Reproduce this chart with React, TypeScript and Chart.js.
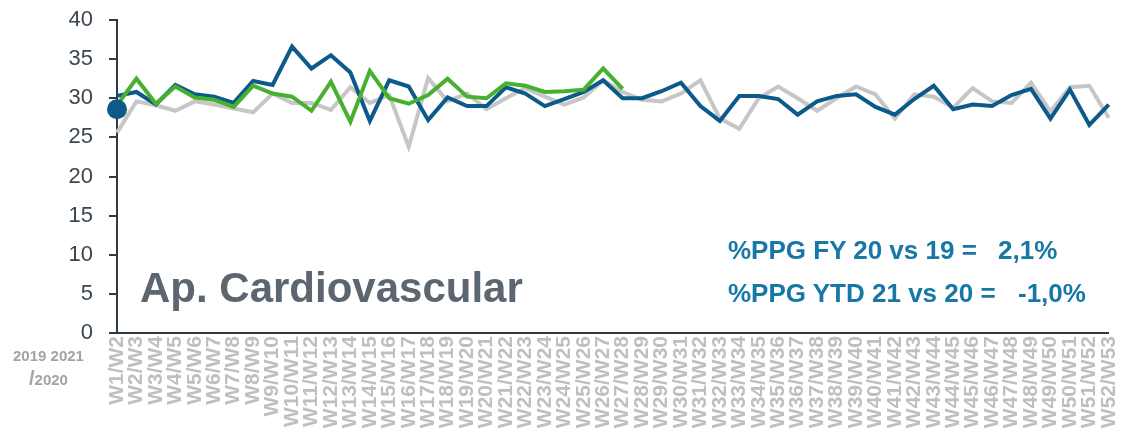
import React, { useEffect, useRef } from "react";
import { Chart, registerables } from "chart.js";

Chart.register(...registerables);

const weekLabels: string[] = [
  "W1/W2", "W2/W3", "W3/W4", "W4/W5", "W5/W6", "W6/W7", "W7/W8", "W8/W9", "W9/W10", "W10/W11",
  "W11/W12", "W12/W13", "W13/W14", "W14/W15", "W15/W16", "W16/W17", "W17/W18", "W18/W19", "W19/W20", "W20/W21",
  "W21/W22", "W22/W23", "W23/W24", "W24/W25", "W25/W26", "W26/W27", "W27/W28", "W28/W29", "W29/W30", "W30/W31",
  "W31/W32", "W32/W33", "W33/W34", "W34/W35", "W35/W36", "W36/W37", "W37/W38", "W38/W39", "W39/W40", "W40/W41",
  "W41/W42", "W42/W43", "W43/W44", "W44/W45", "W45/W46", "W46/W47", "W47/W48", "W48/W49", "W49/W50", "W50/W51",
  "W51/W52", "W52/W53",
];

const values2019: number[] = [
  25.6, 29.6, 29.1, 28.4, 29.6, 29.2, 28.7, 28.2, 30.6, 29.4,
  29.4, 28.5, 31.4, 29.4, 30.4, 23.8, 32.6, 29.6, 30.6, 28.6,
  30.0, 31.3, 30.2, 29.2, 30.1, 32.3, 30.8, 29.8, 29.6, 30.6,
  32.3, 27.4, 26.1, 30.0, 31.5, 30.0, 28.4, 30.0, 31.5, 30.5,
  27.4, 30.5, 30.2, 28.8, 31.3, 29.6, 29.4, 32.0, 28.3, 31.4,
  31.6, 27.5,
];

const values2020: number[] = [
  30.3, 30.8, 29.2, 31.7, 30.5, 30.2, 29.4, 32.2, 31.7, 36.6,
  33.8, 35.5, 33.3, 27.1, 32.3, 31.5, 27.2, 30.1, 29.0, 29.0,
  31.4, 30.6, 29.0, 29.9, 30.8, 32.3, 30.0, 30.0, 30.9, 32.0,
  29.0, 27.1, 30.3, 30.3, 29.9, 27.9, 29.6, 30.3, 30.5, 28.9,
  27.9, 29.9, 31.6, 28.6, 29.2, 29.0, 30.4, 31.2, 27.4, 31.1,
  26.6, 29.2,
];

const values2021: number[] = [
  29.1, 32.5, 29.3, 31.5, 30.1, 29.8, 28.9, 31.6, 30.6, 30.2,
  28.4, 32.1, 27.0, 33.5, 30.0, 29.3, 30.4, 32.5, 30.2, 30.0,
  31.9, 31.6, 30.8, 30.9, 31.1, 33.8, 31.2,
];

const markerValues: number[] = [28.6];

const yTicks = { min: 0, max: 40, step: 5 };

const CANVAS_H = 450;
const AXIS_Y = 333;
const AXIS_X = 117;

const FONT = "'Liberation Sans', Arial, sans-serif";

export default function App() {
  const canvasRef = useRef<HTMLCanvasElement | null>(null);

  useEffect(() => {
    const canvas = canvasRef.current;
    if (!canvas) return;
    const chart = new Chart(canvas, {
      type: "line",
      data: {
        labels: weekLabels,
        datasets: [
          {
            label: "marker",
            data: markerValues,
            showLine: false,
            pointRadius: 10,
            pointBackgroundColor: "#0b5a8a",
            pointBorderColor: "#0b5a8a",
            pointBorderWidth: 0,
            order: 0,
          },
          {
            label: "2021",
            data: values2021,
            borderColor: "#48b02f",
            borderWidth: 4,
            pointRadius: 0,
            tension: 0,
            order: 1,
          },
          {
            label: "2020",
            data: values2020,
            borderColor: "#0b5a8a",
            borderWidth: 4,
            pointRadius: 0,
            tension: 0,
            order: 2,
          },
          {
            label: "2019",
            data: values2019,
            borderColor: "#c6c6c6",
            borderWidth: 4,
            pointRadius: 0,
            tension: 0,
            order: 3,
          },
        ],
      },
      options: {
        animation: false,
        responsive: false,
        maintainAspectRatio: false,
        layout: { padding: { top: 20, right: 10, left: 0, bottom: 0 } },
        plugins: {
          legend: { display: false },
          tooltip: { enabled: false },
        },
        scales: {
          x: {
            offset: false,
            grid: { display: false, drawTicks: false },
            border: { display: true, color: "#2e3a44", width: 2 },
            ticks: {
              autoSkip: false,
              maxRotation: 90,
              minRotation: 90,
              padding: 3,
              color: "#bfbfbf",
              font: { family: FONT, size: 21, weight: "bold" },
            },
            afterFit: (scale: any) => {
              scale.height = CANVAS_H - AXIS_Y;
            },
          },
          y: {
            min: yTicks.min,
            max: yTicks.max,
            ticks: {
              stepSize: yTicks.step,
              padding: 16,
              color: "#3a4650",
              font: { family: FONT, size: 22 },
            },
            grid: {
              drawOnChartArea: false,
              drawTicks: true,
              tickLength: 8,
              color: "#2e3a44",
              lineWidth: 2,
            },
            border: { display: true, color: "#2e3a44", width: 2 },
            afterFit: (scale: any) => {
              scale.width = AXIS_X;
              scale.paddingTop = 0;
              scale.paddingBottom = 0;
            },
          },
        },
      },
    });
    return () => chart.destroy();
  }, []);

  const blue = "#1777a6";
  const ppgStyle: React.CSSProperties = {
    position: "absolute",
    fontSize: 26,
    lineHeight: "26px",
    fontWeight: "bold",
    color: blue,
    whiteSpace: "nowrap",
  };

  return (
    <div
      style={{
        position: "fixed",
        left: 0,
        top: 0,
        width: 1137,
        height: 434,
        overflow: "hidden",
        background: "#ffffff",
        fontFamily: FONT,
      }}
    >
      <canvas
        ref={canvasRef}
        width={1137}
        height={CANVAS_H}
        style={{ position: "absolute", left: 0, top: 0, width: 1137, height: CANVAS_H }}
      />
      <div
        style={{
          position: "absolute",
          left: 140,
          top: 267,
          fontSize: 42,
          lineHeight: "42px",
          fontWeight: "bold",
          color: "#5b6670",
          whiteSpace: "nowrap",
        }}
      >
        Ap. Cardiovascular
      </div>
      <div style={{ ...ppgStyle, left: 728, top: 237 }}>%PPG FY 20 vs 19 =</div>
      <div style={{ ...ppgStyle, left: 998, top: 237 }}>2,1%</div>
      <div style={{ ...ppgStyle, left: 728, top: 280 }}>%PPG YTD 21 vs 20 =</div>
      <div style={{ ...ppgStyle, left: 1018, top: 280 }}>-1,0%</div>
      <div
        style={{
          position: "absolute",
          left: 13,
          top: 348,
          fontSize: 15,
          lineHeight: "15px",
          fontWeight: "bold",
          color: "#a3a3a3",
          whiteSpace: "nowrap",
        }}
      >
        2019 2021
      </div>
      <div
        style={{
          position: "absolute",
          left: 29,
          top: 368,
          fontSize: 20,
          lineHeight: "20px",
          fontWeight: "bold",
          color: "#a3a3a3",
          whiteSpace: "nowrap",
        }}
      >
        /<span style={{ fontSize: 15 }}>2020</span>
      </div>
    </div>
  );
}
